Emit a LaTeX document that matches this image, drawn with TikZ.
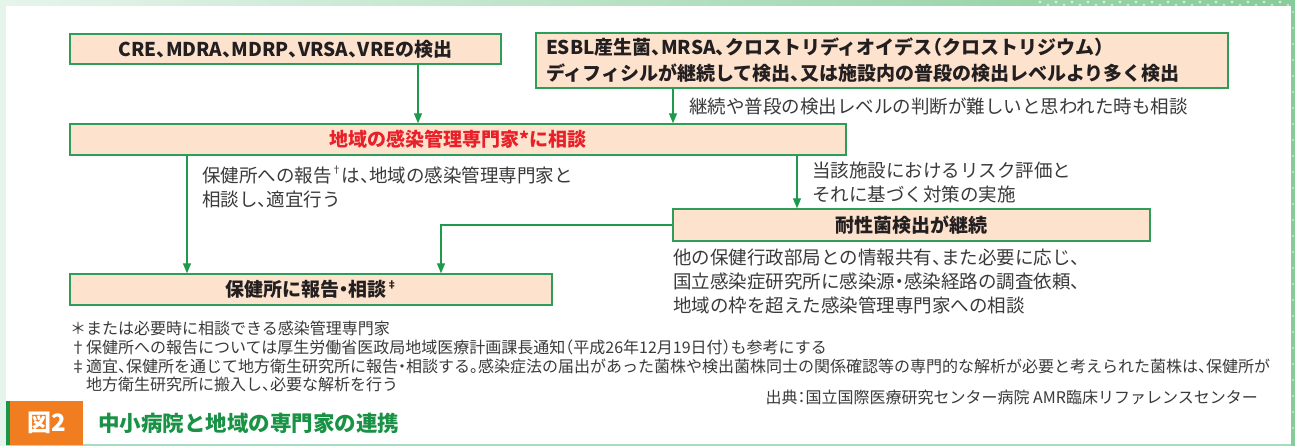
\documentclass[tikz,border=0pt]{standalone}
\usepackage{fontspec}
\setmainfont[RawFeature=+halt]{Noto Sans CJK JP}
\usetikzlibrary{arrows.meta}
\definecolor{boxfill}{HTML}{FDE3CD}
\definecolor{boxdraw}{HTML}{2E9D5A}
\definecolor{arrgreen}{HTML}{1E9A4C}
\definecolor{redtext}{HTML}{E8202A}
\definecolor{darktext}{HTML}{231F20}
\definecolor{lblgray}{HTML}{3A3A3A}
\definecolor{edgegreen}{HTML}{E6F5EC}
\definecolor{bandgreen}{HTML}{86CC98}
\definecolor{bottomline}{HTML}{A6DCC2}
\definecolor{barorange}{HTML}{F07D20}
\definecolor{bargreen}{HTML}{1B9546}
\definecolor{titlegreen}{HTML}{1A9246}
\tikzset{
  box/.style={draw=boxdraw, fill=boxfill, line width=1.4pt, inner sep=0pt,
    font=\fontsize{19}{26}\selectfont\bfseries, text=darktext, align=center},
  lbl/.style={inner sep=0pt, font=\fontsize{18.5}{24}\selectfont, text=lblgray,
    align=left, anchor=west},
  fnote/.style={inner sep=0pt, font=\fontsize{16}{18}\selectfont, text=lblgray,
    anchor=west},
  arr/.style={draw=arrgreen, line width=1.3pt, -{Triangle[length=10pt,width=8pt]}}
}
\newcommand{\supmark}[1]{\raisebox{0.45em}{\fontsize{10}{10}\selectfont #1}}
\begin{document}
\begin{tikzpicture}[x=1pt,y=-1pt]
\useasboundingbox (0,0) rectangle (1295,446);
% frame
\fill[edgegreen] (0,0) rectangle (1295,446);
\shade[left color=edgegreen, right color=bandgreen] (0,0) rectangle (1295,6);
\fill[bandgreen] (1291,0) rectangle (1295,446);
\foreach \x in {1040,1056,...,1290} {
  \fill[white,opacity=0.6] (\x,2) circle (1.6);
  \fill[white,opacity=0.6] (\x+8,5) circle (1.3);
}
\foreach \y in {12,28,...,440} {
  \fill[white,opacity=0.5] (1293,\y) circle (1.2);
}
\fill[white] (6,6) rectangle (1291,444);
\fill[bottomline] (6,444) rectangle (1291,446);

% boxes
\node[box, minimum width=431, minimum height=30] (b1) at (285.5,49)
  {CRE、MDRA、MDRP、VRSA、VREの検出};
\node[box, minimum width=692, minimum height=55, text width=672, align=left] (b2) at (882,60.5)
  {ESBL産生菌、MRSA、クロストリディオイデス（クロストリジウム）\\
   ディフィシルが継続して検出、又は施設内の普段の検出レベルより多く検出};
\node[box, minimum width=776, minimum height=31, text=redtext] (b3) at (458,139.5)
  {地域の感染管理専門家*に相談};
\node[box, minimum width=477, minimum height=32] (b4) at (911.5,225)
  {耐性菌検出が継続};
\node[box, minimum width=482, minimum height=31] (b5) at (311,289.5)
  {保健所に報告・相談\supmark{‡}};

% connector x positions
\coordinate (x1) at (418,0);
\coordinate (x2) at (673,0);
\coordinate (x3) at (187,0);
\coordinate (x4) at (797,0);
\coordinate (x5) at (441,0);

\draw[arr] (b1.south -| x1) -- (b3.north -| x1);
\draw[arr] (b2.south -| x2) -- (b3.north -| x2);
\draw[arr] (b3.south -| x3) -- (b5.north -| x3);
\draw[arr] (b3.south -| x4) -- (b4.north -| x4);
\draw[arr] (b4.west) -| (b5.north -| x5);

% labels
\node[lbl] (l1) at (689,106) {継続や普段の検出レベルの判断が難しいと思われた時も相談};
\node[lbl] (l2) at (202,187) {保健所への報告\supmark{†}は、地域の感染管理専門家と\\相談し、適宜行う};
\node[lbl] (l3) at (812,182) {当該施設におけるリスク評価と\\それに基づく対策の実施};
\node[lbl] (l4) at (673,281) {他の保健行政部局との情報共有、また必要に応じ、\\国立感染症研究所に感染源・感染経路の調査依頼、\\地域の枠を超えた感染管理専門家への相談};

% footnotes
\node[fnote] (f1) at (70,328) {＊または必要時に相談できる感染管理専門家};
\node[fnote] (f2) at (70,347) {†保健所への報告については厚生労働省医政局地域医療計画課長通知（平成26年12月19日付）も参考にする};
\node[fnote] (f3) at (70,366) {‡適宜、保健所を通じて地方衛生研究所に報告・相談する。感染症法の届出があった菌株や検出菌株同士の関係確認等の専門的な解析が必要と考えられた菌株は、保健所が};
\node[fnote] (f4) at (86,384) {地方衛生研究所に搬入し、必要な解析を行う};
\node[fnote, anchor=east] (src) at (1258,397) {出典：国立国際医療研究センター病院 AMR臨床リファレンスセンター};

% title bar
\fill[bargreen] (6,401) rectangle (10,445);
\node[fill=barorange, minimum width=73, minimum height=44, inner sep=0pt,
  text=white, font=\fontsize{24}{24}\selectfont\bfseries] (fig) at (46.5,423) {図2};
\node[anchor=west, inner sep=0pt, text=titlegreen,
  font=\fontsize{21.5}{24}\selectfont\bfseries] (title) at (98,423) {中小病院と地域の専門家の連携};
\end{tikzpicture}
\end{document}
